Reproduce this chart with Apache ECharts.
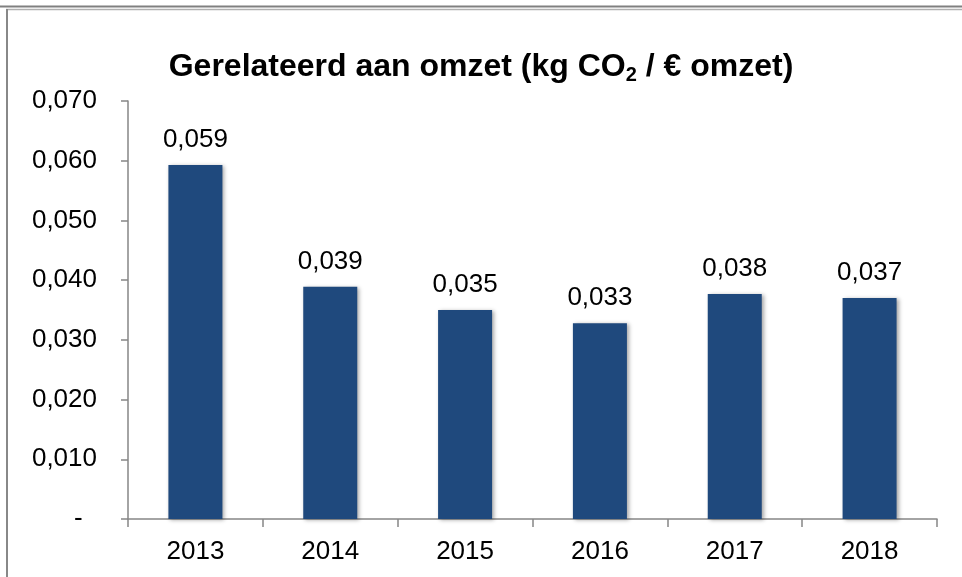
<!DOCTYPE html>
<html>
<head>
<meta charset="utf-8">
<script src="https://cdn.jsdelivr.net/npm/echarts@6/dist/echarts.min.js"></script>
<style>html,body{margin:0;padding:0;background:#fff;}#c{width:962px;height:577px;}</style>
</head>
<body>
<div id="c"></div>
<script>
const categories = ['2013', '2014', '2015', '2016', '2017', '2018'];
const values = [0.0593, 0.0389, 0.0350, 0.0328, 0.0377, 0.0370];
const yTicks = [0, 0.01, 0.02, 0.03, 0.04, 0.05, 0.06, 0.07];
const titleText = 'Gerelateerd aan omzet (kg CO{sub|2} / € omzet)';

const FONT = '"Liberation Sans", Arial, sans-serif';
const fmt = v => Math.abs(v) < 1e-9 ? '-  ' : v.toFixed(3).replace('.', ',');

const chart = echarts.init(document.getElementById('c'), null, {renderer: 'canvas'});
chart.setOption({
  backgroundColor: '#fff',
  animation: false,
  title: {
    text: titleText,
    left: 'center',
    top: 44,
    textStyle: {
      fontFamily: FONT, fontSize: 32, fontWeight: 'bold', color: '#000',
      rich: {
        sub: {fontFamily: FONT, fontSize: 20, fontWeight: 'bold', color: '#000', verticalAlign: 'bottom', padding: [16, 0, 0, 0]}
      }
    }
  },
  graphic: [
    {type: 'line', shape: {x1: 0, y1: 6.5, x2: 962, y2: 6.5}, style: {stroke: '#808080', lineWidth: 2}, silent: true},
    {type: 'line', shape: {x1: 6, y1: 9.5, x2: 962, y2: 9.5}, style: {stroke: '#b0b0b0', lineWidth: 1.5}, silent: true},
    {type: 'line', shape: {x1: 7, y1: 9, x2: 7, y2: 577}, style: {stroke: '#888888', lineWidth: 2}, silent: true}
  ],
  grid: {left: 128, right: 25, top: 101, bottom: 58, containLabel: false},
  xAxis: {
    type: 'category',
    data: categories,
    axisLine: {lineStyle: {color: '#868686', width: 1.5}},
    axisTick: {show: true, length: 8, lineStyle: {color: '#868686', width: 1.5}},
    axisLabel: {fontFamily: FONT, fontSize: 26, color: '#000', margin: 20}
  },
  yAxis: {
    type: 'value',
    min: 0, max: 0.07, interval: 0.01,
    axisLine: {show: true, lineStyle: {color: '#868686', width: 1.5}},
    axisTick: {show: true, length: 7, lineStyle: {color: '#868686', width: 1.5}},
    splitLine: {show: false},
    axisLabel: {
      fontFamily: FONT, fontSize: 26, color: '#000', margin: 31,
      formatter: v => yTicks.some(t => Math.abs(t - v) < 1e-9) ? fmt(v) : ''
    }
  },
  series: [{
    type: 'bar',
    data: values,
    barWidth: 54,
    itemStyle: {
      color: '#1F497D',
      shadowColor: 'rgba(0,0,0,0.35)', shadowBlur: 4, shadowOffsetX: 2, shadowOffsetY: 1
    },
    label: {
      show: true, position: 'top', distance: 12,
      fontFamily: FONT, fontSize: 26, color: '#000',
      formatter: p => p.value.toFixed(3).replace('.', ',')
    }
  }]
});
</script>
</body>
</html>
